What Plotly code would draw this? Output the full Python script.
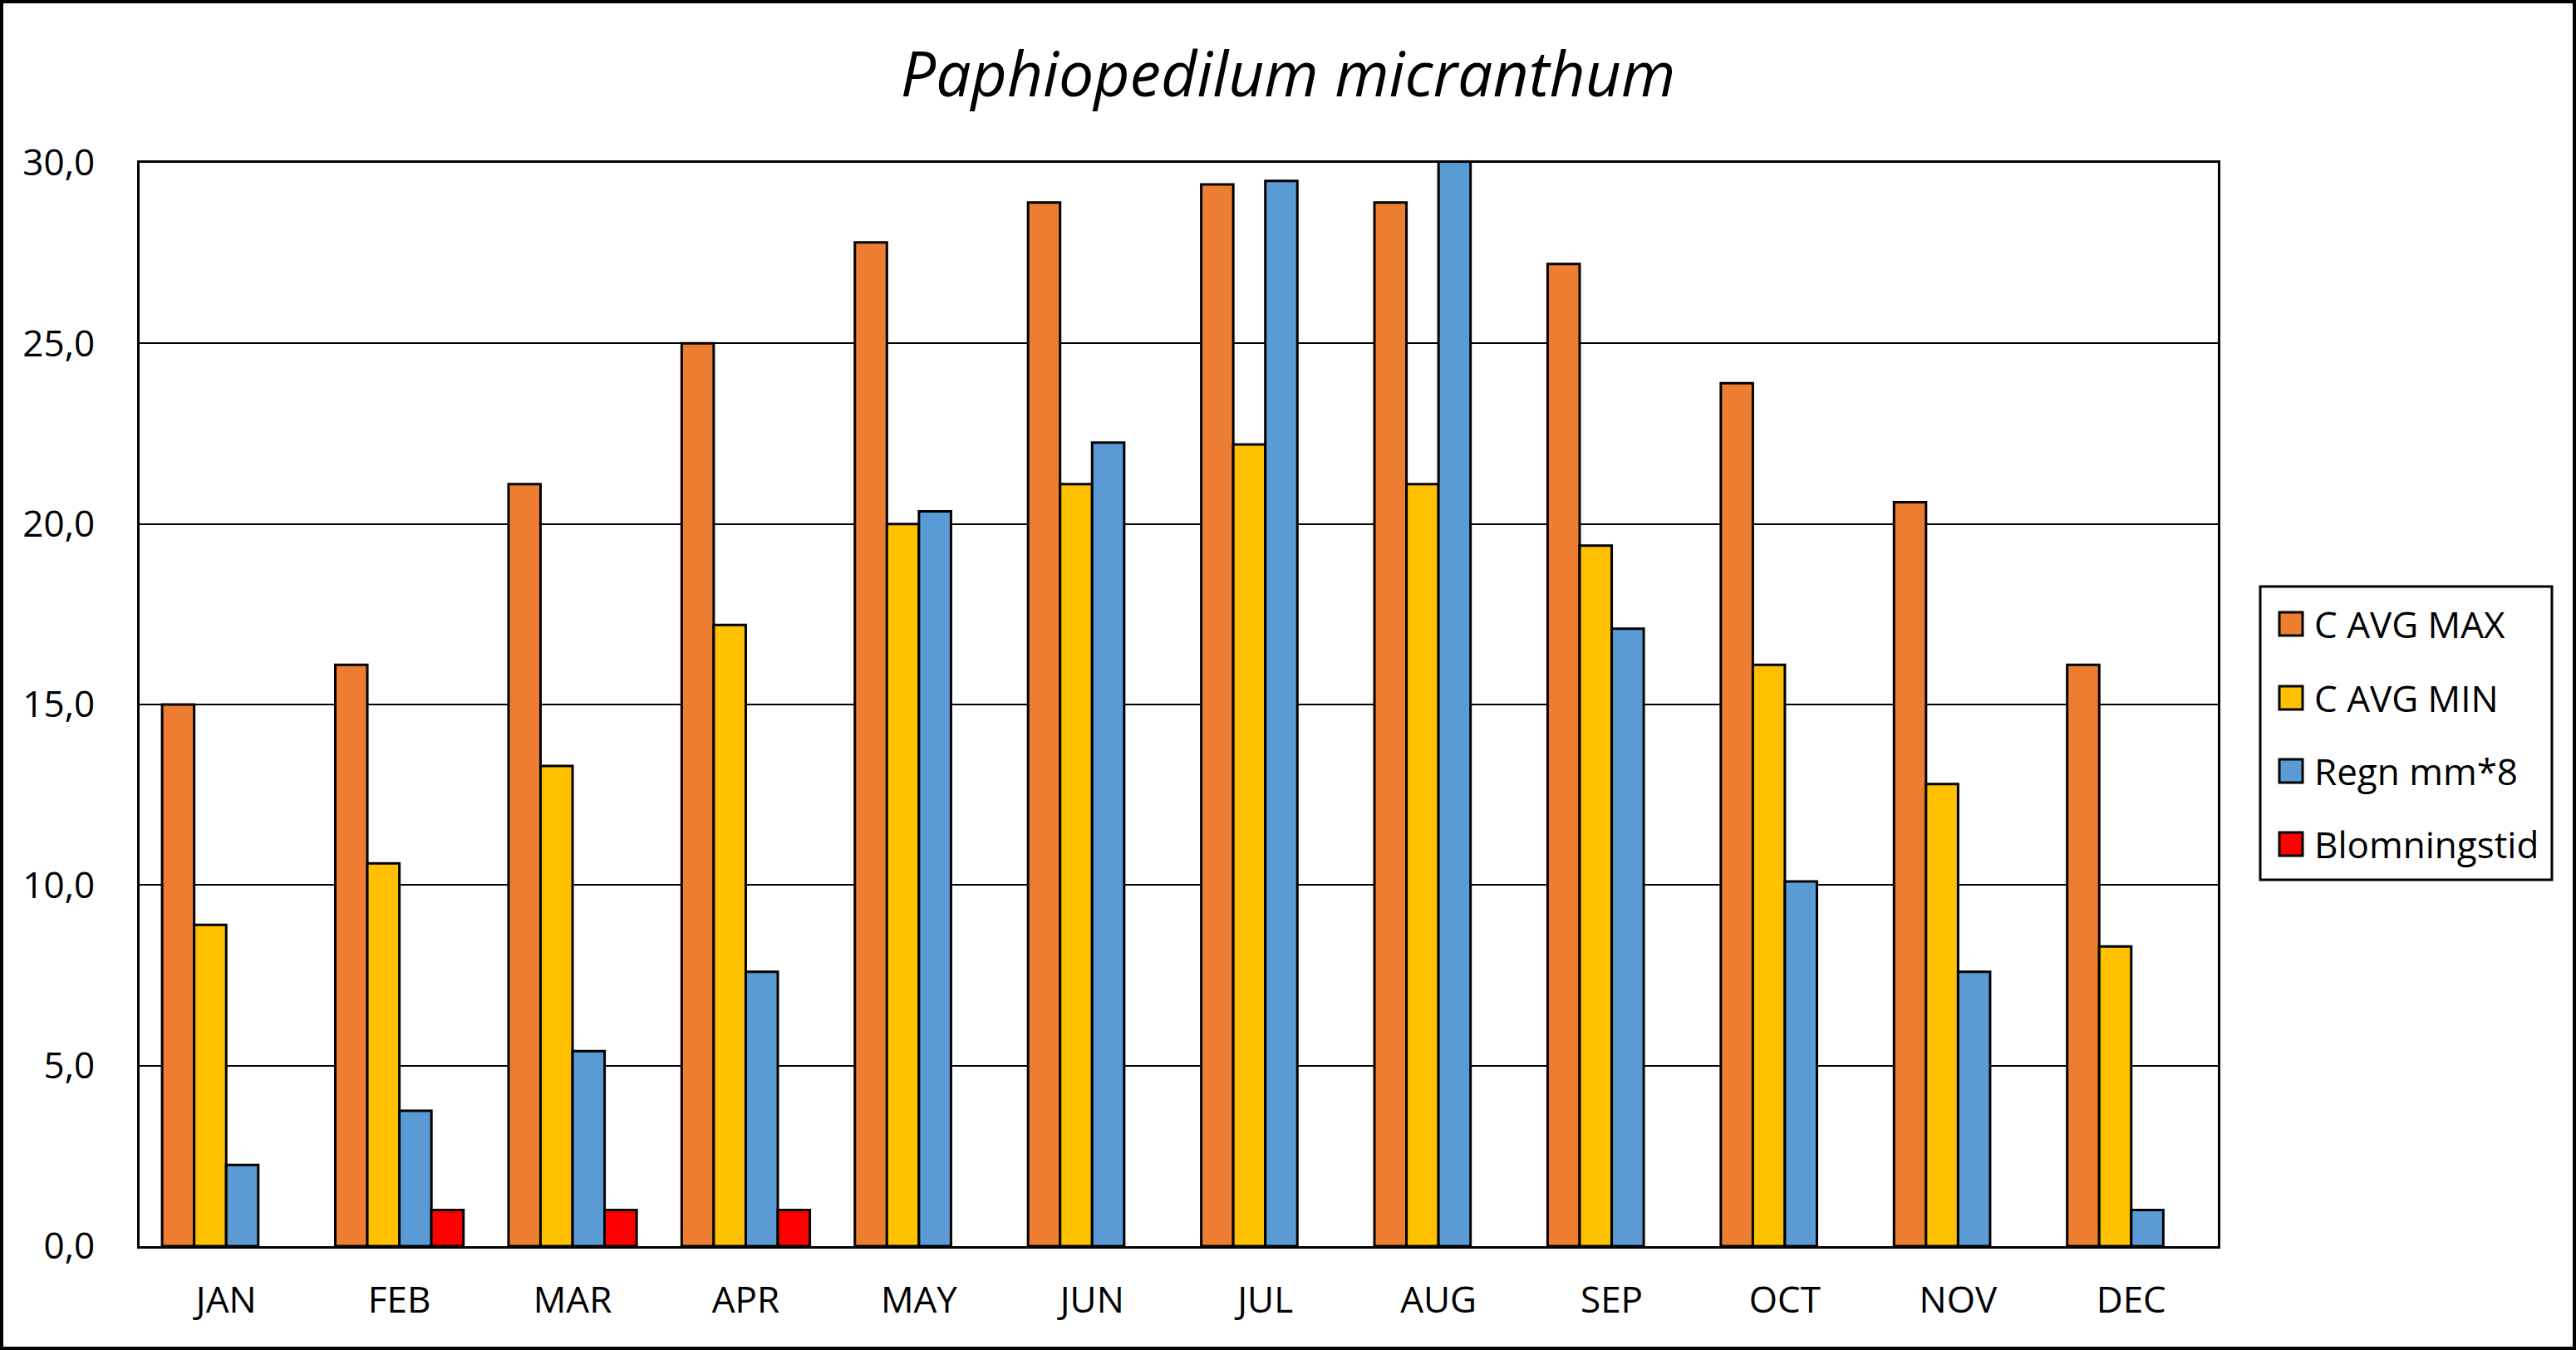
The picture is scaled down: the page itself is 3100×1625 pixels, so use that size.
import plotly.graph_objects as go

months = ["JAN", "FEB", "MAR", "APR", "MAY", "JUN", "JUL", "AUG", "SEP", "OCT", "NOV", "DEC"]
avg_max = [15.0, 16.1, 21.1, 25.0, 27.8, 28.9, 29.4, 28.9, 27.2, 23.9, 20.6, 16.1]
avg_min = [8.9, 10.6, 13.3, 17.2, 20.0, 21.1, 22.2, 21.1, 19.4, 16.1, 12.8, 8.3]
rain_x8 = [2.25, 3.75, 5.4, 7.6, 20.35, 22.25, 29.5, 32.0, 17.1, 10.1, 7.6, 1.0]
bloom = [None, 1.0, 1.0, 1.0, None, None, None, None, None, None, None, None]

series_names = ["C AVG MAX", "C AVG MIN", "Regn mm*8", "Blomningstid"]
series_values = [avg_max, avg_min, rain_x8, bloom]
series_colors = ["#ED7D31", "#FFC000", "#5B9BD5", "#FF0000"]

W, H = 3100, 1625
ML, MR, MT, MB = 168, 431, 196, 125
PW, PH = W - ML - MR, H - MT - MB
FONT = "Open Sans"


def px(x):
    return (x - ML) / PW


def py(y):
    return (H - MB - y) / PH


fig = go.Figure()
for name, vals, col in zip(series_names, series_values, series_colors):
    fig.add_trace(go.Bar(
        x=months, y=vals, name=name,
        marker=dict(color=col, line=dict(color="black", width=3)),
        showlegend=False,
    ))

shapes = []
annotations = []
# outer figure border
shapes.append(dict(type="rect", xref="paper", yref="paper",
                   x0=px(2), x1=px(W - 2), y0=py(H - 2), y1=py(2),
                   line=dict(color="black", width=4), fillcolor="rgba(0,0,0,0)", layer="above"))
# custom legend
shapes.append(dict(type="rect", xref="paper", yref="paper",
                   x0=px(2720), x1=px(3071), y0=py(1059), y1=py(706),
                   line=dict(color="black", width=3), fillcolor="white", layer="above"))
centers = [751, 840, 928, 1016]
for name, col, cy in zip(series_names, series_colors, centers):
    shapes.append(dict(type="rect", xref="paper", yref="paper",
                       x0=px(2743), x1=px(2771), y0=py(cy + 14), y1=py(cy - 14),
                       line=dict(color="black", width=3), fillcolor=col, layer="above"))
    annotations.append(dict(text=name, xref="paper", yref="paper",
                            x=px(2783), y=py(cy), xanchor="left", yanchor="middle",
                            showarrow=False, font=dict(family=FONT, size=44, color="black")))

fig.update_layout(
    width=W, height=H,
    margin=dict(l=ML, r=MR, t=MT, b=MB, pad=0),
    paper_bgcolor="white", plot_bgcolor="white",
    barmode="group", bargap=0.26, bargroupgap=0,
    separators=", ",
    title=dict(text="Paphiopedilum micranthum", x=0.5, xref="container", xanchor="center",
               y=1 - 90 / H, yref="container", yanchor="middle",
               font=dict(family=FONT, size=75, color="black", style="italic")),
    font=dict(family=FONT, size=44, color="black"),
    shapes=shapes, annotations=annotations,
    showlegend=False,
)
fig.update_yaxes(range=[0, 30], dtick=5, tickformat=".1f",
                 showgrid=True, gridcolor="black", gridwidth=2,
                 showline=True, linecolor="black", linewidth=3, mirror=True,
                 ticks="", ticklabelstandoff=42, zeroline=False,
                 tickfont=dict(family=FONT, size=44, color="black"))
fig.update_xaxes(showline=True, linecolor="black", linewidth=3, mirror=True,
                 ticks="", ticklabelstandoff=24, showgrid=False,
                 tickfont=dict(family=FONT, size=44, color="black"))

fig.write_html("out.html",
               config={"displayModeBar": False},
               post_script="document.body.style.margin='0';document.body.style.overflow='hidden';")
